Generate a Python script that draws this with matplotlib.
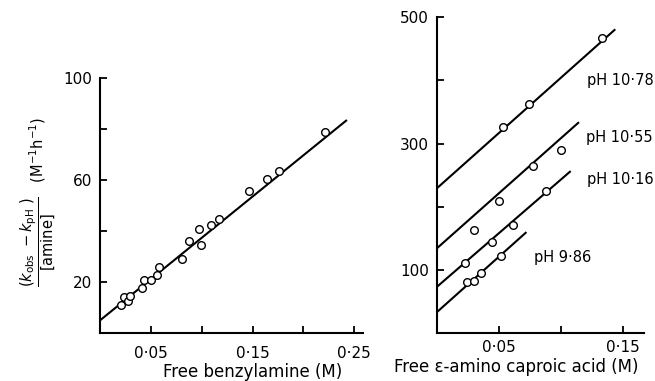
"""Rate constants vs free amine concentration (two panels)"""

import matplotlib
matplotlib.use("Agg")
import matplotlib.pyplot as plt
import numpy as np

# Left panel: benzylamine
benzyl_x = [0.020, 0.023, 0.027, 0.0286, 0.041, 0.043, 0.050, 0.0556, 0.058,
            0.080, 0.087, 0.0975, 0.0995, 0.109, 0.117, 0.146, 0.164, 0.176,
            0.221]
benzyl_y = [11.0, 14.3, 12.7, 14.6, 17.8, 20.8, 20.9, 22.8, 25.9, 29.4, 36.4,
            40.9, 34.8, 42.6, 44.9, 55.8, 60.4, 63.8, 79.0]
benzyl_fit = (5.3, 323.0)        # intercept, slope
benzyl_fit_end = 0.242

# Right panel: epsilon-amino caproic acid at four pH values
ph_labels = ["pH 10·78", "pH 10·55", "pH 10·16", "pH 9·86"]
caproic_x = [
    [0.053, 0.0737, 0.133],
    [0.0296, 0.050, 0.0774, 0.100],
    [0.0226, 0.0439, 0.0608, 0.0877],
    [0.024, 0.0296, 0.0355, 0.0516],
]
caproic_y = [
    [326, 363, 467],
    [163, 210, 264, 290],
    [111, 144, 172, 225],
    [81, 83, 95, 123],
]
caproic_intercept = [230, 135, 74, 34]
caproic_slope = [1748, 1741, 1697, 1753]
caproic_fit_end = [0.143, 0.1137, 0.107, 0.0713]
label_pos = [(0.121, 400), (0.120, 310), (0.121, 243), (0.078, 120)]

plt.rcParams["font.family"] = "DejaVu Sans"
plt.rcParams["mathtext.fontset"] = "dejavusans"


def dot_decimal(v):
    return ("%.2f" % v).replace(".", "·")


def style_axes(ax, pad):
    for side in ("top", "right"):
        ax.spines[side].set_visible(False)
    for side in ("left", "bottom"):
        ax.spines[side].set_linewidth(1.5)
    ax.tick_params(direction="in", length=5, width=1.3, labelsize=11, pad=6)
    ax.tick_params(axis="x", pad=pad)
    ax.tick_params(which="minor", direction="in", length=5, width=1.3)


fig = plt.figure(figsize=(6.55, 3.81), dpi=100)

# ---- left panel
ax1 = fig.add_axes([0.1534, 0.1247, 0.4009, 0.6693])
ax1.plot(benzyl_x, benzyl_y, "o", mfc="white", mec="black", ms=5.5, mew=1.0,
         zorder=3)
xf = np.array([0, benzyl_fit_end])
ax1.plot(xf, benzyl_fit[0] + benzyl_fit[1] * xf, color="black", lw=1.5)
ax1.set_xlim(0, 0.2587)
ax1.set_ylim(0, 100)
ax1.set_xticks([0.05, 0.15, 0.25])
ax1.set_xticklabels([dot_decimal(v) for v in [0.05, 0.15, 0.25]])
ax1.set_xticks([0.1, 0.2], minor=True)
ax1.set_yticks([20, 60, 100])
ax1.set_yticks([40, 80], minor=True)
style_axes(ax1, pad=9)
ax1.set_xlabel("Free benzylamine (M)", fontsize=12)
ax1.xaxis.set_label_coords(0.579, -0.114)
ax1.set_ylabel(r"$\dfrac{(k_{\mathrm{obs}}\ - k_{\mathrm{pH}}\ )}{[\mathrm{amine}]}$"
               r"   (M$^{-1}$h$^{-1}$)", fontsize=10.5)
ax1.yaxis.set_label_coords(-0.166, 0.516)

# ---- right panel
ax2 = fig.add_axes([0.6676, 0.1252, 0.3160, 0.8294])
for i in range(len(ph_labels)):
    ax2.plot(caproic_x[i], caproic_y[i], "o", mfc="white", mec="black",
             ms=5.5, mew=1.0, zorder=3)
    xf = np.array([0, caproic_fit_end[i]])
    ax2.plot(xf, caproic_intercept[i] + caproic_slope[i] * xf, color="black",
             lw=1.5)
    ax2.text(label_pos[i][0], label_pos[i][1], ph_labels[i], fontsize=10.5,
             va="center", ha="left")
ax2.set_xlim(0, 0.167)
ax2.set_ylim(0, 500)
ax2.set_xticks([0.05, 0.15])
ax2.set_xticklabels([dot_decimal(v) for v in [0.05, 0.15]])
ax2.set_xticks([0.1], minor=True)
ax2.set_yticks([100, 300, 500])
ax2.set_yticks([200, 400], minor=True)
style_axes(ax2, pad=5)
ax2.set_xlabel("Free ε-amino caproic acid (M)", fontsize=12)
ax2.xaxis.set_label_coords(0.38, -0.078)

fig.savefig("out.png", dpi=100)
